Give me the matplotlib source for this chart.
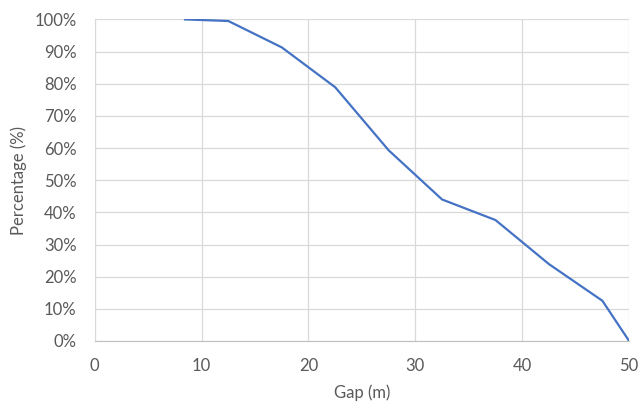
import numpy as np
import matplotlib.pyplot as plt
from matplotlib.ticker import PercentFormatter

# gap (m) vs percentage
gap = [8.45, 12.5, 17.5, 22.5, 27.5, 32.5, 37.5, 42.5, 47.5, 50.0]
pct = [100.0, 99.5, 91.3, 78.9, 59.3, 44.0, 37.6, 23.9, 12.5, 0.0]

xticks = [0, 10, 20, 30, 40, 50]
yticks = list(range(0, 101, 10))

plt.rcParams['font.family'] = ['Lato', 'DejaVu Sans']
txt = '#595959'

fig = plt.figure(figsize=(6.4, 4.04), dpi=100)
ax = fig.add_axes([0.148, 0.156, 0.835, 0.796])

ax.plot(gap, pct, color='#4472C4', lw=1.6, solid_joinstyle='round', zorder=3)

ax.set_xlim(0, 50)
ax.set_ylim(0, 100)
ax.set_xticks(xticks)
ax.set_yticks(yticks)
ax.yaxis.set_major_formatter(PercentFormatter(decimals=0))
ax.grid(True, color='#D9D9D9', lw=0.9)
ax.set_axisbelow(True)

for s in ['top', 'right']:
    ax.spines[s].set_visible(False)
ax.spines['left'].set_color('#D9D9D9')
ax.spines['bottom'].set_color('#BFBFBF')
ax.tick_params(length=0, labelsize=12, colors=txt)
ax.tick_params(axis='y', pad=13)
ax.tick_params(axis='x', pad=12)

ax.set_xlabel('Gap (m)', fontsize=12, color=txt, labelpad=8)
ax.set_ylabel('Percentage (%)', fontsize=12, color=txt, labelpad=5)

fig.savefig('out.png', dpi=100)
